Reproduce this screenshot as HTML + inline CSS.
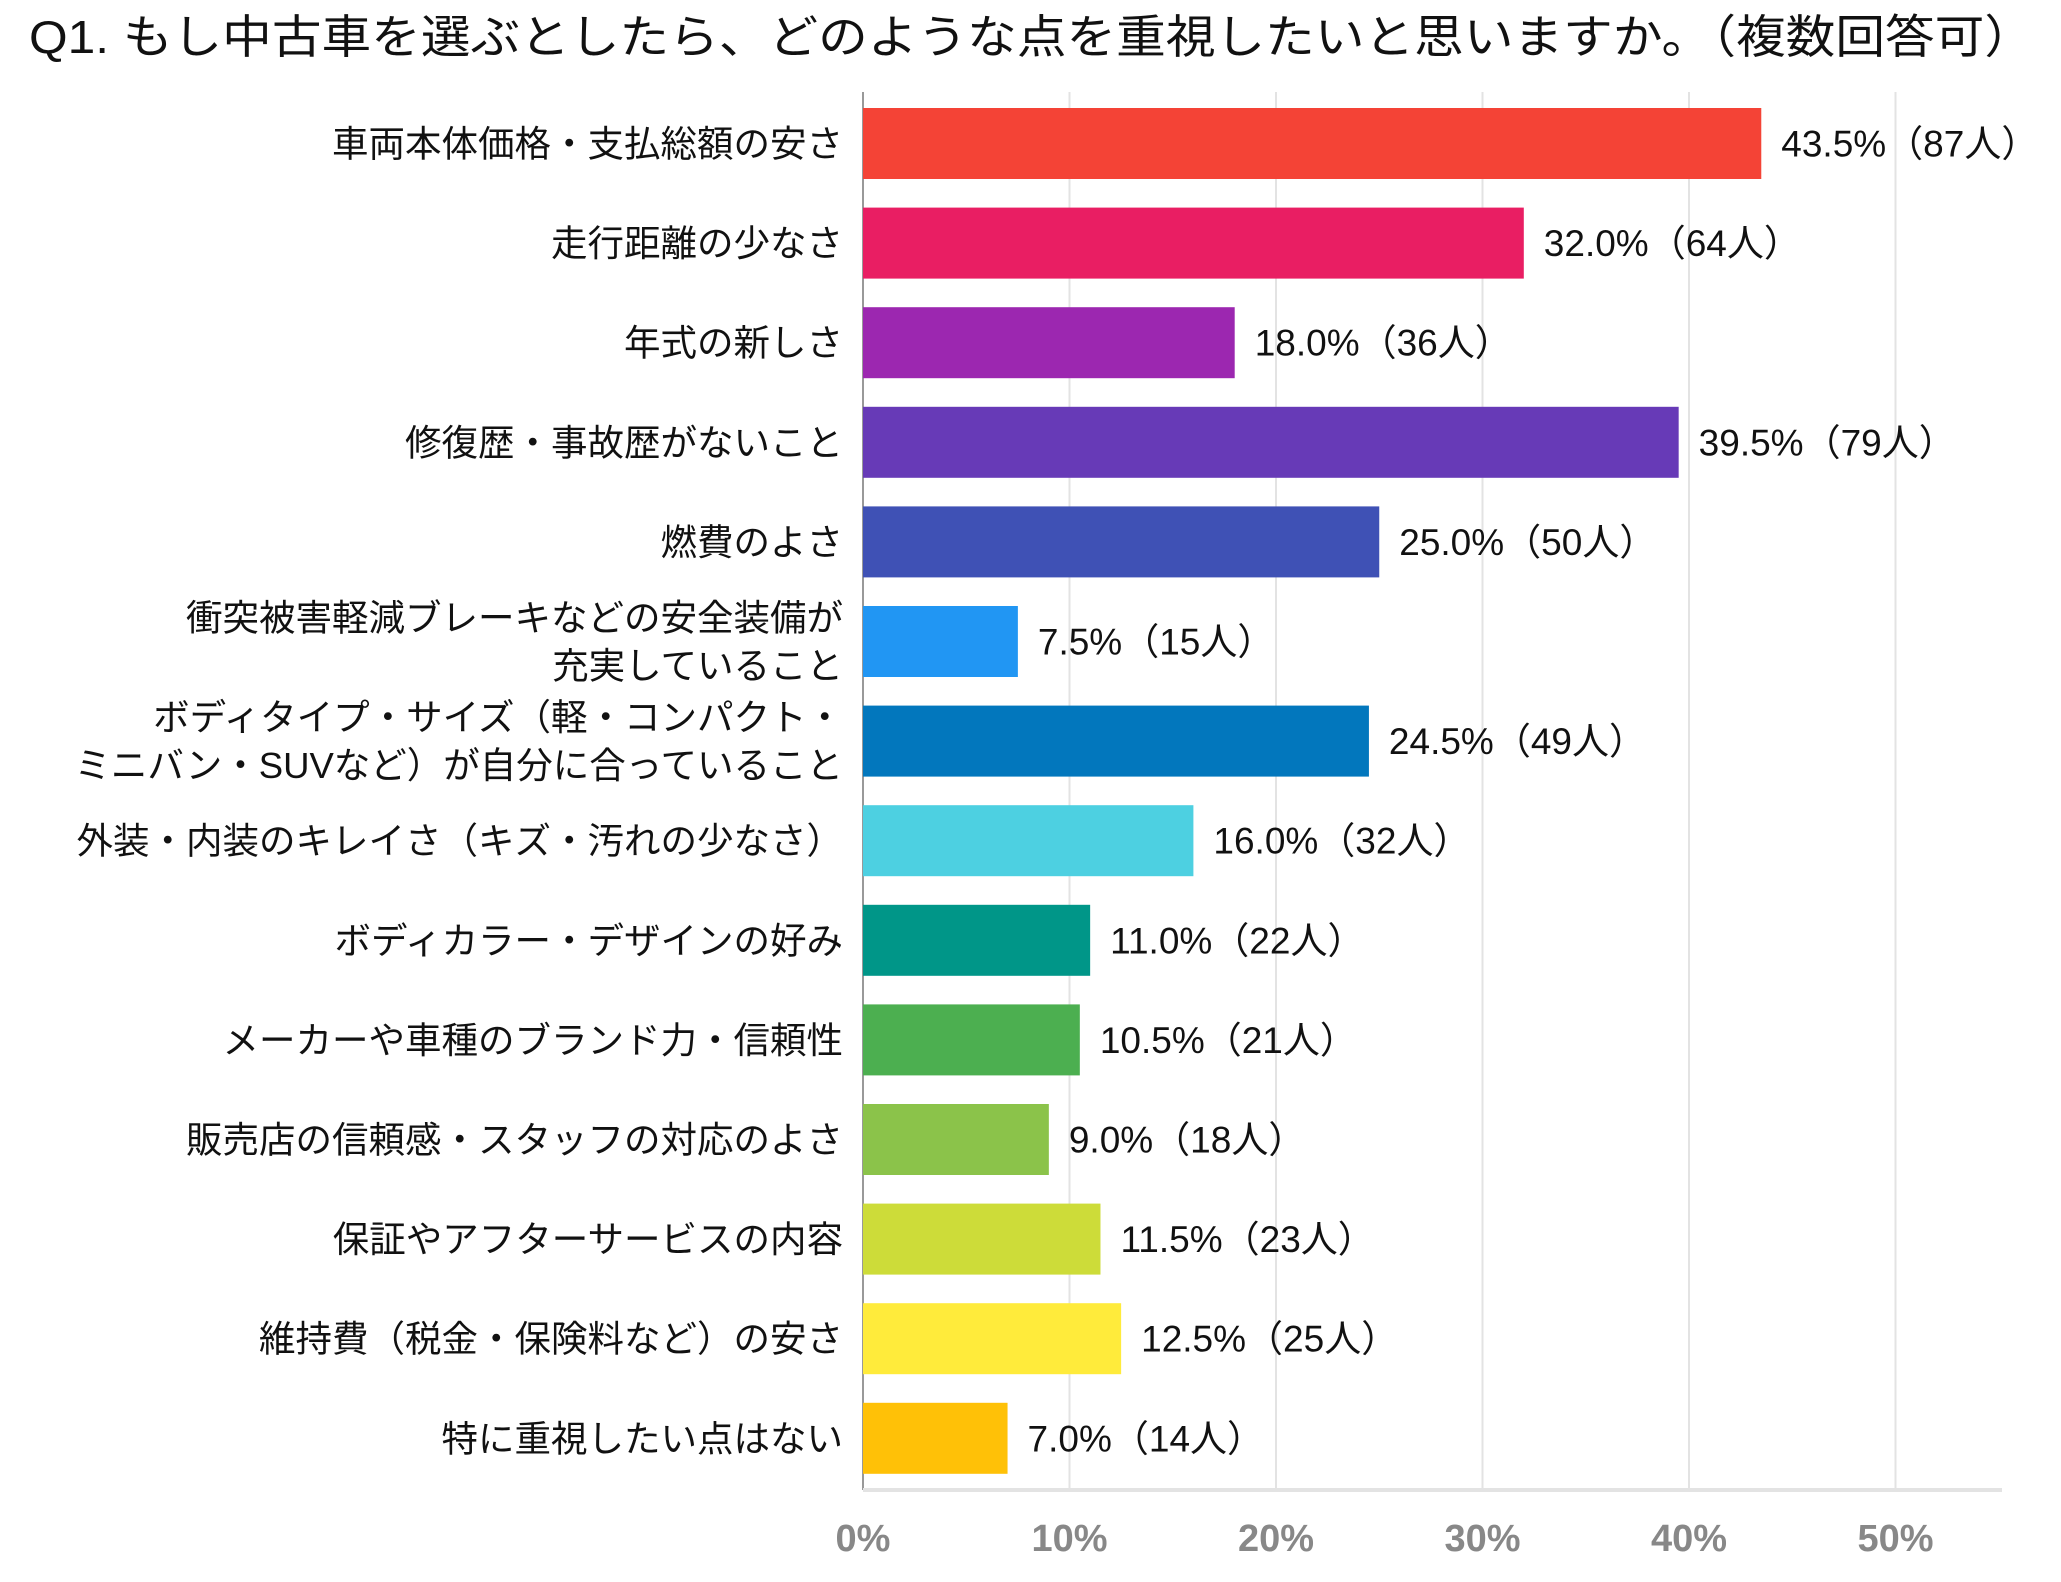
<!DOCTYPE html>
<html><head><meta charset="utf-8"><style>
html,body{margin:0;padding:0;background:#fff;}
svg text{font-family:"Liberation Sans","Noto Sans CJK JP",sans-serif;}
</style></head><body>
<svg id="chart" width="2061" height="1577" viewBox="0 0 2061 1577" xmlns="http://www.w3.org/2000/svg">
<text x="29" y="53" font-size="46" fill="#111" textLength="2005" lengthAdjust="spacingAndGlyphs">Q1. もし中古車を選ぶとしたら、どのような点を重視したいと思いますか。（複数回答可）</text>
<g id="grid"></g><g id="bars"></g><g id="labels"></g><g id="ticks"></g>
</svg>
<script>
const categories=[["車両本体価格・支払総額の安さ"],["走行距離の少なさ"],["年式の新しさ"],["修復歴・事故歴がないこと"],["燃費のよさ"],["衝突被害軽減ブレーキなどの安全装備が","充実していること"],["ボディタイプ・サイズ（軽・コンパクト・","ミニバン・SUVなど）が自分に合っていること"],["外装・内装のキレイさ（キズ・汚れの少なさ）"],["ボディカラー・デザインの好み"],["メーカーや車種のブランド力・信頼性"],["販売店の信頼感・スタッフの対応のよさ"],["保証やアフターサービスの内容"],["維持費（税金・保険料など）の安さ"],["特に重視したい点はない"]];
const values=[43.5,32.0,18.0,39.5,25.0,7.5,24.5,16.0,11.0,10.5,9.0,11.5,12.5,7.0];
const counts=[87,64,36,79,50,15,49,32,22,21,18,23,25,14];
const ticks=[0,10,20,30,40,50];
const colors=["#F44336","#E91E63","#9C27B0","#673AB7","#3F51B5","#2196F3","#0277BD","#4DD0E1","#009688","#4CAF50","#8BC34A","#CDDC39","#FFEB3B","#FFC107"];
const NS="http://www.w3.org/2000/svg";
const x0=863, pxPer=20.65, top0=108, pitch=99.6, bh=71;
const xs=v=>x0+v*pxPer;
function mk(tag,attrs,parent){const e=document.createElementNS(NS,tag);for(const k in attrs)e.setAttribute(k,attrs[k]);document.getElementById(parent).appendChild(e);return e;}
ticks.forEach((t,i)=>{
  const g=mk("line",{x1:xs(t),x2:xs(t),y1:92,y2:1490,stroke:t===0?"#999":"#e3e3e3","stroke-width":2},"grid");
  
  
  const tl=mk("text",{x:xs(t),y:1551,"font-size":38,fill:"#888","font-weight":"bold","text-anchor":"middle"},"ticks");
  tl.textContent=t+"%";
  
  
});
const ax=mk("line",{x1:x0,x2:2002,y1:1490,y2:1490,stroke:"#e3e3e3","stroke-width":4},"grid");


values.forEach((v,i)=>{
  const y=top0+i*pitch, cy=y+bh/2;
  const r=mk("rect",{x:x0,y:y,width:xs(v)-x0,height:bh,fill:colors[i]},"bars");
  
  
  const vl=mk("text",{x:xs(v)+20,y:cy+13,"font-size":37,fill:"#111"},"labels");
  vl.textContent=v.toFixed(1)+"%（"+counts[i]+"人）";
  
  
  const lines=categories[i];
  lines.forEach((ln,j)=>{
    const off=lines.length===1?0:(j===0?-24:24);
    const cl=mk("text",{x:843,y:cy+off+13,"font-size":36.5,fill:"#111","text-anchor":"end"},"labels");
    cl.textContent=ln;
    
    
  });
});
</script>
</body></html>
